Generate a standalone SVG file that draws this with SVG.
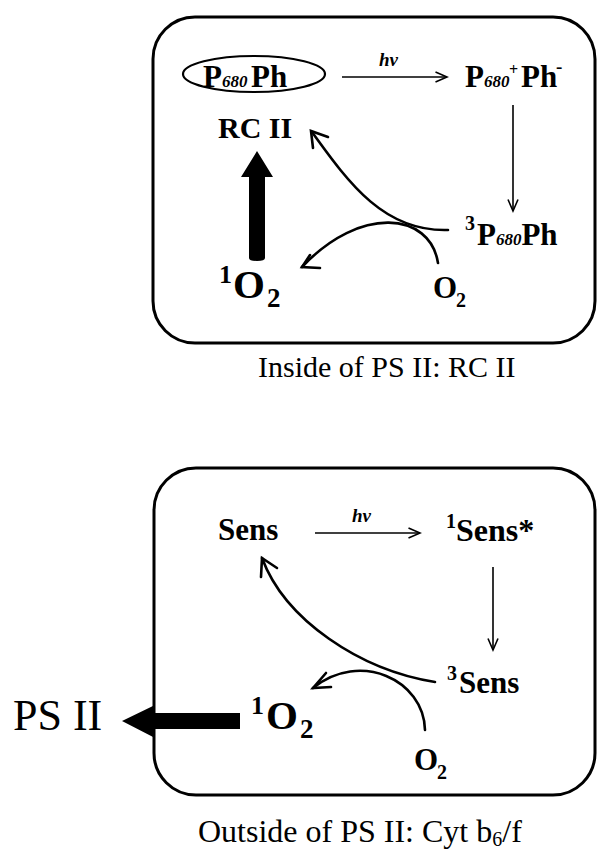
<svg xmlns="http://www.w3.org/2000/svg" width="597" height="849" viewBox="0 0 597 849">
<style>
  .box { fill: none; stroke: #000; stroke-width: 3; }
  .t { font-family: "Liberation Serif", "Times New Roman", serif; fill: #000; }
  .b { font-weight: bold; }
  .it { font-style: italic; font-weight: bold; }
  .thin { fill: none; stroke: #000; stroke-width: 1.6; }
  .curve { fill: none; stroke: #000; stroke-width: 2.6; stroke-linecap: round; }
  .chead { fill: none; stroke: #000; stroke-width: 2.6; stroke-linecap: round; stroke-linejoin: miter; }
  .thick { fill: #000; stroke: none; }
</style>
<defs>
  <marker id="ah" markerUnits="userSpaceOnUse" viewBox="0 0 14 12" markerWidth="14" markerHeight="12" refX="12.5" refY="6" orient="auto">
    <path d="M1,1 L12.5,6 L1,11" fill="none" stroke="#000" stroke-width="1.6"/>
  </marker>
</defs>

<!-- Top panel -->
<g id="panel-top">
  <rect class="box" x="153" y="17" width="442" height="326" rx="42" ry="42"/>
</g>
<g id="node-p680ph">
  <ellipse cx="254" cy="74" rx="71" ry="18" fill="none" stroke="#000" stroke-width="2.2"/>
  <text class="t b" y="87" font-size="31"><tspan x="203">P</tspan><tspan class="it" font-size="17">680</tspan><tspan x="251">Ph</tspan></text>
</g>
<g id="node-hv-top">
  <text class="t it" x="379" y="66" font-size="19">hv</text>
</g>
<g id="node-p680plus">
  <text class="t b" font-size="31"><tspan x="465" y="87">P</tspan><tspan class="it" font-size="17">680</tspan><tspan font-size="16" x="509" y="75">+</tspan><tspan x="521" y="87">Ph</tspan><tspan font-size="19" x="556" y="73">-</tspan></text>
</g>
<g id="node-rcii">
  <text class="t b" x="218" y="138" font-size="30">RC II</text>
</g>
<g id="node-3p680ph">
  <text class="t b" font-size="31"><tspan x="465" y="230" font-size="20">3</tspan><tspan x="477" y="245">P</tspan><tspan class="it" font-size="17">680</tspan><tspan>Ph</tspan></text>
</g>
<g id="node-1o2-top">
  <text class="t b"><tspan x="219" y="283" font-size="26">1</tspan><tspan x="233" y="298" font-size="41">O</tspan><tspan x="267" y="307" font-size="27">2</tspan></text>
</g>
<g id="node-o2-top">
  <text class="t b"><tspan x="433" y="298" font-size="31">O</tspan><tspan x="456" y="307" font-size="20">2</tspan></text>
</g>
<g id="caption-top">
  <text class="t" x="258" y="377" font-size="30">Inside of PS II: RC II</text>
</g>

<!-- Bottom panel -->
<g id="panel-bottom">
  <rect class="box" x="154" y="468" width="441" height="327" rx="42" ry="42"/>
</g>
<g id="node-sens">
  <text class="t b" x="218" y="540" font-size="31">Sens</text>
</g>
<g id="node-hv-bottom">
  <text class="t it" x="352" y="522" font-size="19">hv</text>
</g>
<g id="node-1sens">
  <text class="t b"><tspan x="446" y="528" font-size="20">1</tspan><tspan x="456" y="541" font-size="32">Sens*</tspan></text>
</g>
<g id="node-3sens">
  <text class="t b"><tspan x="447" y="680" font-size="20">3</tspan><tspan x="459" y="693" font-size="31">Sens</tspan></text>
</g>
<g id="node-1o2-bottom">
  <text class="t b"><tspan x="251" y="714" font-size="26">1</tspan><tspan x="266" y="729" font-size="41">O</tspan><tspan x="300" y="738" font-size="27">2</tspan></text>
</g>
<g id="node-o2-bottom">
  <text class="t b"><tspan x="414" y="770" font-size="31">O</tspan><tspan x="437" y="779" font-size="20">2</tspan></text>
</g>
<g id="node-psii">
  <text class="t" x="13" y="730" font-size="44">PS II</text>
</g>
<g id="caption-bottom">
  <text class="t" font-size="32"><tspan x="198" y="842">Outside of PS II: Cyt b</tspan><tspan font-size="20" dy="4">6</tspan><tspan dy="-4">/f</tspan></text>
</g>

<!-- Connectors -->
<g id="connectors">
  <!-- top panel -->
  <line class="thin" x1="342" y1="77" x2="447" y2="77" marker-end="url(#ah)"/>
  <line class="thin" x1="513" y1="105" x2="513" y2="211" marker-end="url(#ah)"/>
  <path class="curve" d="M448,230 C385,232 350,185 312,132"/>
  <path class="chead" d="M328,137 L311,131 L313,148"/>
  <path class="curve" d="M438,263 C430,212 360,205 302,267"/>
  <path class="chead" d="M310,255 L302,267 L320,268"/>
  <path class="thick" d="M241,177 L257,151 L273,177 L265,177 L265,258 Q265,261 257,261 Q249,261 249,258 L249,177 Z"/>
  <!-- bottom panel -->
  <line class="thin" x1="315" y1="533" x2="420" y2="533" marker-end="url(#ah)"/>
  <line class="thin" x1="493" y1="567" x2="493" y2="650" marker-end="url(#ah)"/>
  <path class="curve" d="M435,682 C360,670 285,620 262,558"/>
  <path class="chead" d="M277,568 L262,558 L261,577"/>
  <path class="curve" d="M425,730 C424,680 360,650 313,688"/>
  <path class="chead" d="M326,673 L313,688 L331,687"/>
  <path class="thick" d="M122,721 L155,705 L155,713 L240,713 L240,729 L155,729 L155,738 Z"/>
</g>
</svg>
